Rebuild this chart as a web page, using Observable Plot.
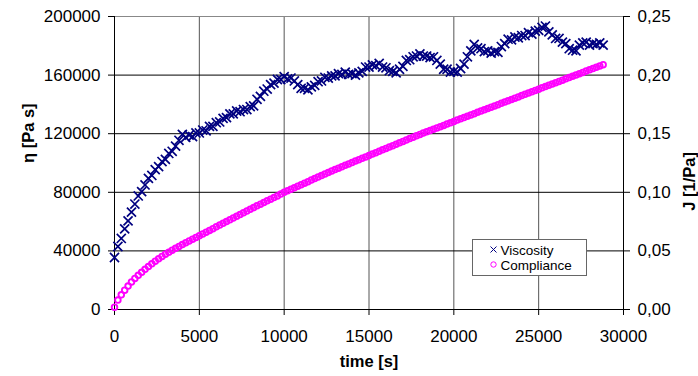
<!DOCTYPE html>
<html><head><meta charset="utf-8">
<script src="https://cdn.jsdelivr.net/npm/d3@7"></script>
<script src="https://cdn.jsdelivr.net/npm/@observablehq/plot@0.6"></script>
<style>
body{margin:0;background:#fff;}
#wrap{position:relative;width:698px;height:376px;font-family:"Liberation Sans",Arial,sans-serif;}
#legend{position:absolute;left:472px;top:239px;}
</style></head><body><div id="wrap"></div>
<script>
const time = [0,200,400,600,800,1000,1200,1400,1600,1800,2000,2200,2400,2600,2800,3000,3200,3400,3600,3800,
4000,4200,4400,4600,4800,5000,5200,5400,5600,5800,6000,6200,6400,6600,6800,7000,7200,7400,7600,7800,
8000,8200,8400,8600,8800,9000,9200,9400,9600,9800,10000,10200,10400,10600,10800,11000,11200,11400,11600,11800,
12000,12200,12400,12600,12800,13000,13200,13400,13600,13800,14000,14200,14400,14600,14800,15000,15200,15400,15600,15800,
16000,16200,16400,16600,16800,17000,17200,17400,17600,17800,18000,18200,18400,18600,18800,19000,19200,19400,19600,19800,
20000,20200,20400,20600,20800,21000,21200,21400,21600,21800,22000,22200,22400,22600,22800,23000,23200,23400,23600,23800,
24000,24200,24400,24600,24800,25000,25200,25400,25600,25800,26000,26200,26400,26600,26800,27000,27200,27400,27600,27800,
28000,28200,28400,28600,28800];

const viscosity = [35500,43000,48500,55000,60500,66500,72000,77500,80500,85000,89500,91500,95500,97500,101000,102500,106500,108000,111500,115500,
119500,117500,119000,118000,120500,120500,122500,122000,125000,125000,127500,128000,130500,131000,133500,133500,135500,135000,136500,136500,
138500,139000,143500,145500,149000,150500,153500,154500,157000,157000,159000,157500,158000,156000,153500,151000,151000,150000,152000,153000,
155500,156000,158500,158000,159500,159500,161000,160500,162000,160500,161000,160000,161500,162500,165500,165500,167000,166500,168000,165500,
165000,163000,162500,161500,164000,166000,170000,170500,172500,173000,174500,173000,173000,172000,172500,170000,167500,164000,164000,162000,
162500,162000,164500,167500,172500,176500,181000,178500,178000,176000,176500,175000,176000,175500,179500,181500,184500,184000,186000,185500,
187000,187000,189000,188000,190000,190500,192500,193500,189500,187500,185000,185000,182500,181500,178000,177000,176500,180500,182000,182500,
180500,181500,181000,182000,180500];

const compliance = [0.002,0.008,0.0125,0.0165,0.020,0.0235,0.0265,0.0292,0.0318,0.0343,0.0367,0.0390,0.0412,0.0433,0.0453,0.0472,0.0489,0.0506,0.0522,0.0538,
0.0554,0.0570,0.0585,0.0600,0.0615,0.0630,0.0645,0.0660,0.0675,0.0690,0.0705,0.0720,0.0735,0.0750,0.0765,0.0780,0.0795,0.0810,0.0825,0.0840,
0.0855,0.0870,0.0885,0.0899,0.0913,0.0927,0.0941,0.0955,0.0969,0.0985,0.1000,0.1013,0.1026,0.1039,0.1052,0.1065,0.1078,0.1091,0.1104,0.1117,
0.1130,0.1143,0.1156,0.1169,0.1182,0.1194,0.1206,0.1218,0.1230,0.1242,0.1254,0.1266,0.1278,0.1290,0.1302,0.1314,0.1326,0.1338,0.1350,0.1362,
0.1374,0.1386,0.1398,0.1410,0.1422,0.1434,0.1446,0.1458,0.1470,0.1482,0.1494,0.1505,0.1516,0.1527,0.1538,0.1549,0.1560,0.1571,0.1582,0.1593,
0.1604,0.1616,0.1627,0.1638,0.1649,0.1660,0.1671,0.1682,0.1693,0.1704,0.1715,0.1726,0.1737,0.1748,0.1759,0.1770,0.1781,0.1792,0.1803,0.1814,
0.1825,0.1836,0.1847,0.1858,0.1869,0.1880,0.1891,0.1902,0.1913,0.1924,0.1935,0.1946,0.1957,0.1968,0.1979,0.1990,0.2001,0.2012,0.2023,0.2034,
0.2045,0.2056,0.2067,0.2078,0.2089];

const xTicks = [0,5000,10000,15000,20000,25000,30000];
const etaTicks = [0,40000,80000,120000,160000,200000];
const jTicks = [0,0.05,0.10,0.15,0.20,0.25];
const seriesNames = ["Viscosity","Compliance"];
const seriesColors = ["#000080","#ff00ff"];

const J2ETA = 200000 / 0.25;
const rows = time.map((t,i)=>({t, eta: viscosity[i], j: compliance[i]*J2ETA}));

const chart = Plot.plot({
  width: 698, height: 376,
  marginLeft: 114, marginRight: 75, marginTop: 16, marginBottom: 67,
  style: {fontFamily: '"Liberation Sans", Arial, sans-serif', fontSize: "17px", color: "#000", background: "#fff"},
  x: {domain: [0,30000]},
  y: {domain: [0,200000]},
  marks: [
    Plot.gridX(xTicks, {stroke: "#555", strokeOpacity: 1}),
    Plot.gridY(etaTicks, {stroke: "#000", strokeOpacity: 1}),
    Plot.ruleY([200000], {stroke: "#888"}),
    Plot.ruleY([0], {stroke: "#000"}),
    Plot.ruleX([0], {stroke: "#000"}),
    Plot.ruleX([30000], {stroke: "#000"}),
    Plot.axisX(xTicks, {tickSize: 6, tickPadding: 14, label: null, tickFormat: d => String(d), fontSize: 17}),
    Plot.axisY(etaTicks, {anchor: "left", tickSize: 6, tickPadding: 8, label: null, tickFormat: d => String(d), fontSize: 17}),
    Plot.axisY(jTicks.map(v => v*J2ETA), {anchor: "right", tickSize: 6, tickPadding: 8, label: null,
      tickFormat: v => (v/J2ETA).toFixed(2).replace(".", ","), fontSize: 17}),
    Plot.dot(rows, {x: "t", y: "j", r: 2.8, stroke: seriesColors[1], fill: "none", strokeWidth: 1.9}),
    Plot.dot(rows, {x: "t", y: "eta", symbol: "times", r: 4.2, stroke: seriesColors[0], strokeWidth: 1.7}),
    Plot.text(["η [Pa s]"], {frameAnchor: "left", dx: -86, rotate: -90, fontWeight: "bold", fontSize: 16.5}),
    Plot.text(["J [1/Pa]"], {frameAnchor: "right", dx: 66, dy: -11, rotate: -90, fontWeight: "bold", fontSize: 16.5}),
    Plot.text(["time [s]"], {frameAnchor: "bottom", dy: 57, fontWeight: "bold", fontSize: 16.5})
  ]
});
const wrap = document.getElementById("wrap");
wrap.appendChild(chart);

// legend
const lg = d3.select(wrap).append("svg").attr("id","legend").attr("width",116).attr("height",38);
lg.append("rect").attr("x",0.5).attr("y",0.5).attr("width",114).attr("height",36).attr("fill","#fff").attr("stroke","#666");
seriesNames.forEach((name,i)=>{
  const cy = 10.5 + i*15;
  if (i===0) {
    lg.append("path").attr("d",`M${18.5},${cy-3}l6,6M${18.5},${cy+3}l6,-6`).attr("stroke",seriesColors[0]).attr("fill","none");
  } else {
    lg.append("circle").attr("cx",21.5).attr("cy",cy).attr("r",2.7).attr("stroke",seriesColors[1]).attr("fill","none");
  }
  lg.append("text").attr("x",28.5).attr("y",cy+5).attr("font-size","13.5px")
    .attr("font-family",'"Liberation Sans", Arial, sans-serif').text(name);
});
</script></body></html>
